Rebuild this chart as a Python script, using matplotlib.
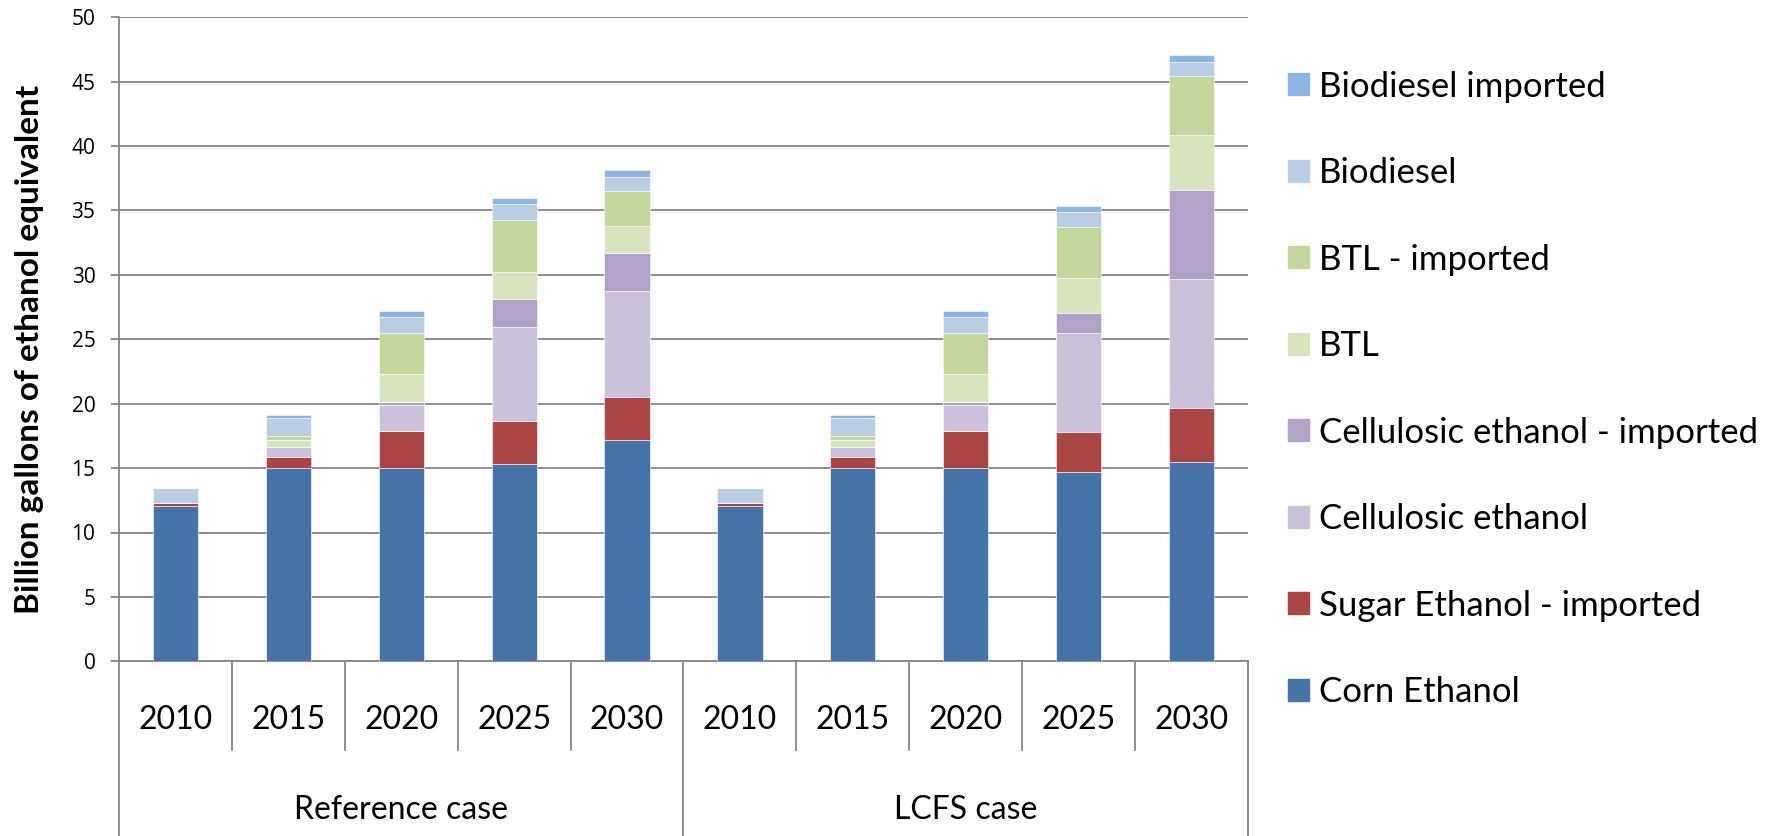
import matplotlib
matplotlib.use('Agg')
import matplotlib.pyplot as plt
from matplotlib.patches import Patch
import numpy as np

# categories
years = ['2010', '2015', '2020', '2025', '2030']
cases = ['Reference case', 'LCFS case']

# series values, Reference case then LCFS case (billion gallons ethanol eq.)
corn     = [12.05, 15.0, 15.0, 15.3, 17.15, 12.05, 15.0, 15.0, 14.7, 15.5]
sugar    = [0.27, 0.85, 2.85, 3.35, 3.4, 0.27, 0.85, 2.85, 3.1, 4.15]
cell     = [0, 0.75, 2.05, 7.3, 8.2, 0, 0.75, 2.05, 7.7, 10.05]
cell_imp = [0, 0.05, 0.27, 2.15, 2.95, 0, 0.05, 0.27, 1.55, 6.9]
btl      = [0, 0.55, 2.1, 2.15, 2.1, 0, 0.55, 2.1, 2.7, 4.3]
btl_imp  = [0, 0.33, 3.2, 4.0, 2.75, 0, 0.33, 3.2, 3.95, 4.55]
bio      = [1.1, 1.35, 1.3, 1.25, 1.05, 1.1, 1.35, 1.3, 1.2, 1.1]
bio_imp  = [0, 0.27, 0.4, 0.45, 0.55, 0, 0.27, 0.4, 0.45, 0.55]

names = ['Corn Ethanol', 'Sugar Ethanol - imported', 'Cellulosic ethanol',
         'Cellulosic ethanol - imported', 'BTL', 'BTL - imported',
         'Biodiesel', 'Biodiesel imported']
series = [corn, sugar, cell, cell_imp, btl, btl_imp, bio, bio_imp]
colors = ['#4572A7', '#AA4643', '#CCC1DA', '#B3A2C7',
          '#D7E4BD', '#C3D69B', '#B9CDE5', '#8EB4E3']

grey = '#868686'
txtfont = ['Lato', 'DejaVu Sans']

fig = plt.figure(figsize=(17.68, 8.36), dpi=100)
ax = fig.add_axes([119/1768, 1-661.3/836, 1129/1768, 644/836])

x = np.arange(len(corn))
bottom = np.zeros(len(corn))
for vals, c, n in zip(series, colors, names):
    v = np.array(vals)
    ax.bar(x, v, 0.40, bottom=bottom, color=c, edgecolor='white', linewidth=0.4, label=n, zorder=3)
    bottom += v

ax.set_xlim(-0.5, 9.5)
ax.set_ylim(0, 50)
ax.set_yticks(np.arange(0, 51, 5))
ax.yaxis.grid(True, color=grey, lw=1.3, zorder=0)
ax.set_xticks([])
for s in ['top', 'right']:
    ax.spines[s].set_visible(False)
ax.spines['left'].set_color(grey)
ax.spines['left'].set_linewidth(1.3)
ax.spines['bottom'].set_color(grey)
ax.spines['bottom'].set_linewidth(1.3)
ax.tick_params(axis='y', length=6, width=1.3, color=grey, pad=11, labelsize=15,
               labelfontfamily='Open Sans')

# category axis below the plot
tr = ax.get_xaxis_transform()
for i in range(len(corn) + 1):
    xs = i - 0.5
    low = -0.29 if i % 5 == 0 else -0.138
    ax.plot([xs, xs], [0, low], color=grey, lw=1.3, transform=tr, clip_on=False)
for i, yr in enumerate(years * 2):
    ax.text(i, -0.0915, yr, transform=tr, ha='center', va='center', fontsize=23, family=txtfont)
for j, cs in enumerate(cases):
    ax.text(j * 5 + 2, -0.231, cs, transform=tr, ha='center', va='center', fontsize=23, family=txtfont)

fig.text(30/1768, 1-349/836, 'Billion gallons of ethanol equivalent', rotation=90,
         ha='center', va='center', fontsize=24, fontweight='bold',
         family=['Liberation Sans Narrow', 'Lato', 'DejaVu Sans'])

handles = [Patch(color=c) for c in colors][::-1]
leg = fig.legend(handles, names[::-1], loc='center left', bbox_to_anchor=(1288/1768, 1-389.4/836),
                 frameon=False, prop={'family': txtfont, 'size': 25},
                 handlelength=0.6, handleheight=0.6, handletextpad=0.3,
                 labelspacing=1.57, borderpad=0, borderaxespad=0)

fig.savefig('out.png', dpi=100)
